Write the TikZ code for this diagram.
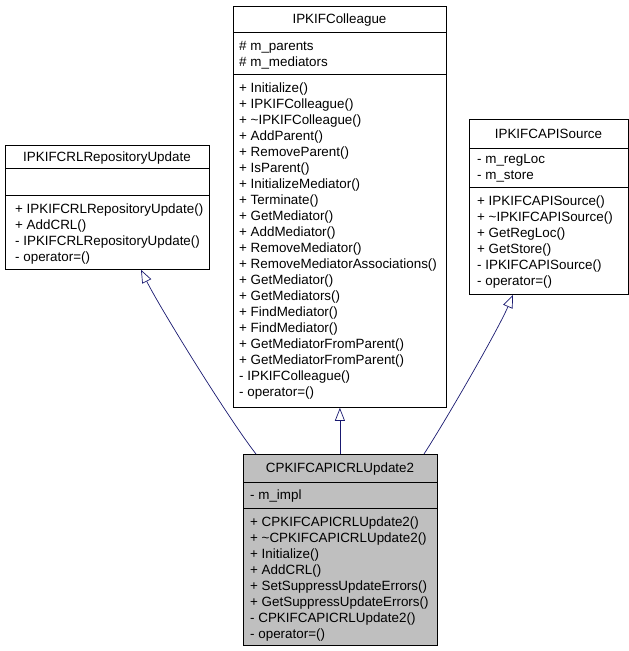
\documentclass[tikz,border=0pt]{standalone}
\usepackage{fontspec}
\setmainfont{Liberation Sans}
\usetikzlibrary{arrows.meta,calc}
\definecolor{edgeblue}{HTML}{191970}
\definecolor{boxgray}{HTML}{BFBFBF}
\begin{document}
\begin{tikzpicture}[x=1pt,y=-1pt,
  umlbox/.style={draw=black, line width=0.8pt, inner sep=0pt, anchor=north west},
  txt/.style={anchor=base west, inner sep=0pt, font=\fontsize{13.4}{16}\selectfont},
  ttl/.style={anchor=base, inner sep=0pt, font=\fontsize{13.4}{16}\selectfont},
  divline/.style={draw=black, line width=0.8pt},
  inh/.style={draw=edgeblue, line width=0.7pt, -{Triangle[open, length=13pt, width=10pt, fill=white]}}]
\useasboundingbox (0,0) rectangle (629,651);

% IPKIFColleague
\node[umlbox, minimum width=213pt, minimum height=401pt] (col) at (233,6) {};
\draw[divline] (233,32) -- (446,32);
\draw[divline] (233,74) -- (446,74);
\node[ttl] (colt) at (339.5,23.5) {IPKIFColleague};
\foreach [count=\i from 0] \t in {\# m\_parents, \# m\_mediators}
  \node[txt] (cola\i) at (239,{50+16*\i}) {\t};
\foreach [count=\i from 0] \t in {+ Initialize(), + IPKIFColleague(), + \textasciitilde IPKIFColleague(), + AddParent(), + RemoveParent(), + IsParent(), + InitializeMediator(), + Terminate(), + GetMediator(), + AddMediator(), + RemoveMediator(), + RemoveMediatorAssociations(), + GetMediator(), + GetMediators(), + FindMediator(), + FindMediator(), + GetMediatorFromParent(), + GetMediatorFromParent(), - IPKIFColleague(), - operator=()}
  \node[txt] (colm\i) at (239,{92+16*\i}) {\t};

% IPKIFCRLRepositoryUpdate
\node[umlbox, minimum width=204pt, minimum height=124pt] (crl) at (5,145) {};
\draw[divline] (5,168) -- (209,168);
\draw[divline] (5,195) -- (209,195);
\node[ttl] (crlt) at (107,161) {IPKIFCRLRepositoryUpdate};
\foreach [count=\i from 0] \t in {+ IPKIFCRLRepositoryUpdate(), + AddCRL(), - IPKIFCRLRepositoryUpdate(), - operator=()}
  \node[txt] (crlm\i) at (15,{213+16*\i}) {\t};

% IPKIFCAPISource
\node[umlbox, minimum width=159pt, minimum height=175pt] (src) at (469,119) {};
\draw[divline] (469,148) -- (628,148);
\draw[divline] (469,187) -- (628,187);
\node[ttl] (srct) at (548.5,138) {IPKIFCAPISource};
\foreach [count=\i from 0] \t in {- m\_regLoc, - m\_store}
  \node[txt] (srca\i) at (477,{163+16*\i}) {\t};
\foreach [count=\i from 0] \t in {+ IPKIFCAPISource(), + \textasciitilde IPKIFCAPISource(), + GetRegLoc(), + GetStore(), - IPKIFCAPISource(), - operator=()}
  \node[txt] (srcm\i) at (477,{205+16*\i}) {\t};

% CPKIFCAPICRLUpdate2
\node[umlbox, fill=boxgray, minimum width=194pt, minimum height=191pt] (cpk) at (243,454) {};
\draw[divline] (243,482) -- (437,482);
\draw[divline] (243,508) -- (437,508);
\node[ttl] (cpkt) at (340,472.5) {CPKIFCAPICRLUpdate2};
\node[txt] (cpka0) at (250,499) {- m\_impl};
\foreach [count=\i from 0] \t in {+ CPKIFCAPICRLUpdate2(), + \textasciitilde CPKIFCAPICRLUpdate2(), + Initialize(), + AddCRL(), + SetSuppressUpdateErrors(), + GetSuppressUpdateErrors(), - CPKIFCAPICRLUpdate2(), - operator=()}
  \node[txt] (cpkm\i) at (250,{526+16*\i}) {\t};

% inheritance connectors
\coordinate (e1s) at ($(cpk.north west)+(13,0)$);
\coordinate (e1t) at ($(crl.south west)+(136,0)$);
\coordinate (e3s) at ($(cpk.north west)+(181,0)$);
\coordinate (e3t) at ($(src.south west)+(44,0)$);
\draw[inh] (e1s) .. controls (228,418) and (160,308) .. (e1t);
\draw[inh] (cpk.north -| col.south) -- (col.south);
\draw[inh] (e3s) .. controls (446,420) and (498,330) .. (e3t);
\end{tikzpicture}
\end{document}
